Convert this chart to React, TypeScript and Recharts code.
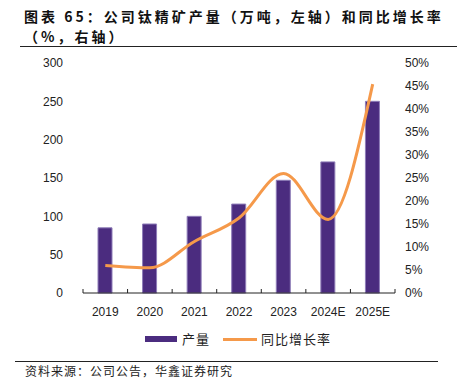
import { ComposedChart, Bar, Line, XAxis, YAxis } from "recharts";

const years = ["2019", "2020", "2021", "2022", "2023", "2024E", "2025E"];
const output = [85, 90, 100, 116, 147, 171, 250];
const growth = [6.0, 5.5, 11.2, 16.3, 26.0, 16.0, 45.4];
const leftTicks = [0, 50, 100, 150, 200, 250, 300];
const rightTicks = [0, 5, 10, 15, 20, 25, 30, 35, 40, 45, 50];

const data = years.map((year, i) => ({
  year,
  output: output[i],
  growth: growth[i],
}));

const BAR_COLOR = "#4B2C7F";
const LINE_COLOR = "#F5994A";
const PLOT_W = 312;
const BAND = PLOT_W / years.length;
const CJK = '"Noto Sans CJK SC", sans-serif';
const LATIN = '"Liberation Sans", Arial, sans-serif';

function YearTick(props: any) {
  const { x, y, payload, index } = props;
  const axisY = y - 14;
  return (
    <g>
      {index === 0 && (
        <line x1={x - BAND / 2} x2={x - BAND / 2} y1={axisY} y2={axisY - 4} stroke="#222" />
      )}
      <line x1={x + BAND / 2} x2={x + BAND / 2} y1={axisY} y2={axisY - 4} stroke="#222" />
      <text
        x={x}
        y={y}
        dy="0.71em"
        textAnchor="middle"
        fontSize={12}
        fontFamily={LATIN}
        fill="#222"
      >
        {payload.value}
      </text>
    </g>
  );
}

export default function App() {
  return (
    <div
      style={{
        position: "absolute",
        top: 0,
        left: 0,
        width: 460,
        height: 379,
        background: "#fff",
        fontFamily: CJK,
      }}
    >
      <div
        style={{
          position: "absolute",
          left: 24,
          top: 6,
          width: 436,
          fontSize: 14,
          fontWeight: 700,
          lineHeight: "20px",
          letterSpacing: 3,
          color: "#111",
          whiteSpace: "nowrap",
        }}
      >
        <div>图表 65：公司钛精矿产量（万吨，左轴）和同比增长率</div>
        <div>（%，右轴）</div>
      </div>
      <div
        style={{
          position: "absolute",
          left: 20,
          top: 46,
          width: 437,
          borderTop: "1px solid #222",
        }}
      />

      <div style={{ position: "absolute", left: 0, top: 0 }}>
        <ComposedChart
          width={460}
          height={330}
          data={data}
          margin={{ top: 63, right: 15, bottom: 7, left: 23 }}
        >
          <XAxis
            dataKey="year"
            axisLine={{ stroke: "#222" }}
            tickLine={false}
            tickMargin={8}
            height={30}
            tick={<YearTick />}
            interval={0}
          />
          <YAxis
            yAxisId="left"
            domain={[0, 300]}
            ticks={leftTicks}
            axisLine={false}
            tickLine={false}
            tickMargin={14}
            width={60}
            tick={{ fontSize: 12, fontFamily: LATIN, fill: "#222" }}
          />
          <YAxis
            yAxisId="right"
            orientation="right"
            domain={[0, 50]}
            ticks={rightTicks}
            axisLine={false}
            tickLine={false}
            tickMargin={4}
            width={50}
            tickFormatter={(v: number) => `${v}%`}
            tick={{ fontSize: 12, fontFamily: LATIN, fill: "#222", textAnchor: "start" }}
          />
          <Bar
            yAxisId="left"
            dataKey="output"
            barSize={14}
            fill={BAR_COLOR}
            stroke="#8E7DB8"
            strokeWidth={1}
            isAnimationActive={false}
          />
          <Line
            yAxisId="right"
            dataKey="growth"
            type="monotone"
            stroke={LINE_COLOR}
            strokeWidth={3}
            dot={false}
            isAnimationActive={false}
          />
        </ComposedChart>
      </div>

      <div
        style={{
          position: "absolute",
          left: 145,
          top: 336,
          width: 32,
          height: 6,
          background: BAR_COLOR,
        }}
      />
      <div
        style={{
          position: "absolute",
          left: 182,
          top: 330,
          fontSize: 13,
          lineHeight: "18px",
          letterSpacing: 1,
          color: "#222",
        }}
      >
        产量
      </div>
      <div
        style={{
          position: "absolute",
          left: 223,
          top: 337.5,
          width: 34,
          height: 3,
          background: LINE_COLOR,
        }}
      />
      <div
        style={{
          position: "absolute",
          left: 261,
          top: 330,
          fontSize: 13,
          lineHeight: "18px",
          letterSpacing: 1,
          color: "#222",
        }}
      >
        同比增长率
      </div>

      <div
        style={{
          position: "absolute",
          left: 15,
          top: 361,
          width: 423,
          borderTop: "1px solid #222",
        }}
      />
      <div
        style={{
          position: "absolute",
          left: 25,
          top: 363,
          fontSize: 12,
          lineHeight: "16px",
          letterSpacing: 1,
          color: "#222",
          whiteSpace: "nowrap",
        }}
      >
        资料来源：公司公告，华鑫证券研究
      </div>
    </div>
  );
}
